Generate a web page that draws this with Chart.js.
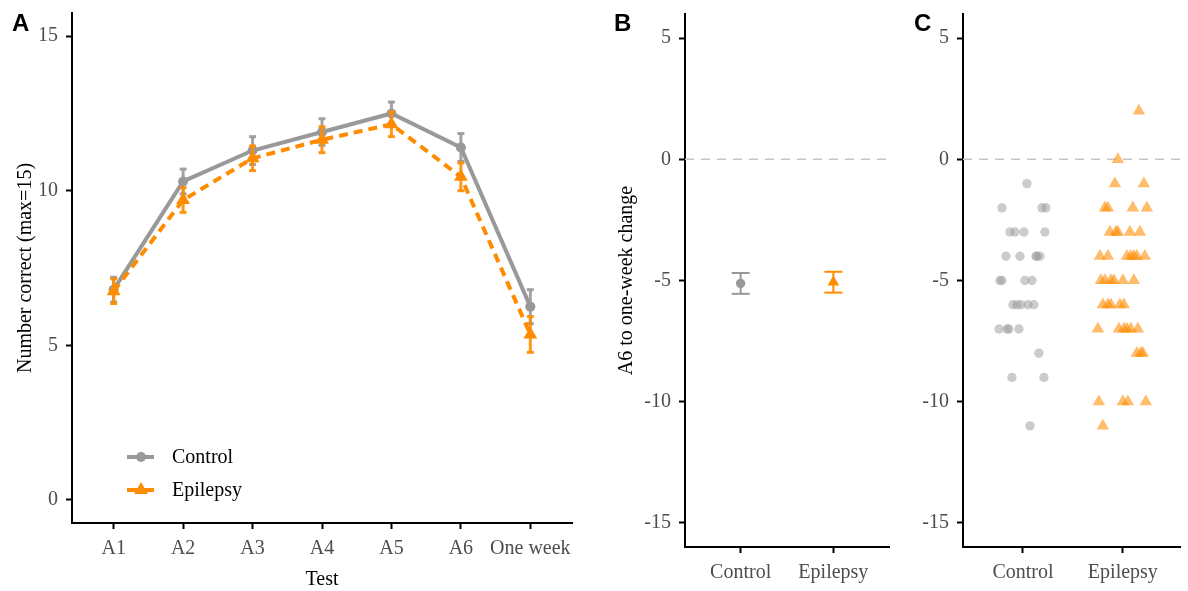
<!DOCTYPE html>
<html lang="en">
<head>
<meta charset="utf-8" />
<title>Recall by test: control vs epilepsy</title>
<script src="https://cdn.jsdelivr.net/npm/chart.js@4.4.1/dist/chart.umd.min.js"></script>
<style>
  html, body { margin: 0; padding: 0; background: #fff; }
  body { width: 1188px; height: 591px; position: relative; overflow: hidden; }
  canvas { position: absolute; top: 0; }
  .tag { position: absolute; top: 11px; font: bold 24px/24px "Liberation Sans", Arial, sans-serif; color: #000; }
</style>
</head>
<body>
<canvas id="cA" width="600" height="591" style="left:0"></canvas>
<canvas id="cB" width="300" height="591" style="left:600px"></canvas>
<canvas id="cC" width="288" height="591" style="left:900px"></canvas>
<div class="tag" style="left:12px">A</div>
<div class="tag" style="left:614px">B</div>
<div class="tag" style="left:914px">C</div>
<script>
// ---- panel A: learning trials ----
const tests = ['A1', 'A2', 'A3', 'A4', 'A5', 'A6', 'One week'];
const controlMean = [6.8, 10.3, 11.3, 11.9, 12.5, 11.4, 6.25];
const controlSE = [0.4, 0.4, 0.45, 0.43, 0.37, 0.45, 0.55];
const epilepsyMean = [6.75, 9.7, 11.05, 11.65, 12.15, 10.45, 5.35];
const epilepsySE = [0.4, 0.4, 0.4, 0.42, 0.4, 0.45, 0.58];
const yTicksA = [0, 5, 10, 15];

// ---- panel B: mean change A6 -> one week ----
const groups = ['Control', 'Epilepsy'];
const changeMean = [-5.12, -5.07];
const changeSE = [0.43, 0.43];
const yTicksChange = [-15, -10, -5, 0, 5];
const refLineY = 0;

// ---- panel C: individual changes (jitter in category units) ----
const controlChange = [-1, -2, -2, -2, -3, -3, -3, -3, -4, -4, -4, -4, -4, -5, -5, -5, -5,
  -6, -6, -6, -6, -6, -7, -7, -7, -7, -8, -9, -9, -11];
const controlJitter = [0.04, -0.21, 0.19, 0.23, -0.13, -0.08, 0.01, 0.22, -0.17, -0.03, 0.13, 0.14, 0.17,
  -0.23, -0.21, 0.02, 0.09, -0.10, -0.06, -0.02, 0.05, 0.11, -0.24, -0.16, -0.14, -0.04, 0.16, -0.11, 0.21, 0.07];
const epilepsyChange = [2, 0, -1, -1, -2, -2, -2, -2, -3, -3, -3, -3, -3,
  -4, -4, -4, -4, -4, -4, -4, -5, -5, -5, -5, -5, -5, -6, -6, -6, -6, -6,
  -7, -7, -7, -7, -7, -7, -8, -8, -8, -10, -10, -10, -10, -11];
const epilepsyJitter = [0.16, -0.05, -0.08, 0.21, -0.18, -0.15, 0.10, 0.24, -0.13, -0.07, -0.05, 0.07, 0.17,
  -0.23, -0.15, 0.04, 0.08, 0.11, 0.14, 0.22, -0.22, -0.18, -0.12, -0.09, 0.00, 0.11,
  -0.20, -0.15, -0.12, -0.03, 0.01, -0.25, -0.04, 0.01, 0.04, 0.08, 0.15,
  0.14, 0.18, 0.20, -0.24, 0.00, 0.05, 0.23, -0.20];

const SERIF = "'Liberation Serif', 'Times New Roman', serif";
const GREY = '#999999';
const ORANGE = '#ff8c00';
const TICK_TXT = '#4d4d4d';

// segments lo->hi for each point, separated by gaps
function errorBars(xs, means, ses) {
  const out = [];
  xs.forEach((x, i) => {
    out.push({ x, y: means[i] - ses[i] }, { x, y: means[i] + ses[i] }, { x, y: null });
  });
  return out;
}

function errDataset(data, color, capR, width, order) {
  return {
    data, showLine: true, spanGaps: false, order,
    borderColor: color, borderWidth: width,
    pointStyle: 'line', pointRadius: capR, pointBorderWidth: width,
    pointBorderColor: color, pointBackgroundColor: color,
  };
}

// fixed sizes so the plot boxes land where the original panels are
function yAxis(width, min, max, ticks, title, titlePad) {
  return {
    type: 'linear', min, max, bounds: 'data',
    afterFit: (s) => { s.width = width; s.paddingTop = 0; s.paddingBottom = 0; },
    afterBuildTicks: (s) => { s.ticks = ticks.map((v) => ({ value: v })); },
    border: { display: true, color: '#000', width: 2 },
    grid: { display: true, drawOnChartArea: false, drawTicks: true, tickLength: 6, tickWidth: 2, tickColor: '#000' },
    ticks: { color: TICK_TXT, font: { family: SERIF, size: 20 }, padding: 8 },
    title: title
      ? { display: true, text: title, color: '#000', font: { family: SERIF, size: 20 }, padding: { top: titlePad, bottom: 0 } }
      : { display: false },
  };
}

function xAxis(height, min, max, labels, title) {
  return {
    type: 'linear', min, max, bounds: 'data',
    afterFit: (s) => { s.height = height; s.paddingLeft = 0; s.paddingRight = 0; },
    afterBuildTicks: (s) => { s.ticks = labels.map((_, i) => ({ value: i + 1 })); },
    border: { display: true, color: '#000', width: 2 },
    grid: { display: true, drawOnChartArea: false, drawTicks: true, tickLength: 6, tickWidth: 2, tickColor: '#000' },
    ticks: {
      color: TICK_TXT, font: { family: SERIF, size: 20 }, padding: 8,
      autoSkip: false, maxRotation: 0, minRotation: 0,
      callback: (v) => labels[Math.round(v) - 1],
    },
    title: title
      ? { display: true, text: title, color: '#000', font: { family: SERIF, size: 20 }, padding: { top: 0, bottom: -1 } }
      : { display: false },
  };
}

const baseOptions = {
  responsive: false,
  animation: false,
  devicePixelRatio: 1,
  events: [],
  plugins: { legend: { display: false }, tooltip: { enabled: false } },
};

// legend drawn inside panel A, bottom-left
const legendItems = [
  { label: 'Control', color: GREY, shape: 'circle', r: 5 },
  { label: 'Epilepsy', color: ORANGE, shape: 'triangle', r: 8 },
];
const legendA = {
  id: 'legendA',
  afterDraw(chart) {
    const { ctx, chartArea } = chart;
    const x0 = chartArea.left + 55;
    legendItems.forEach((item, i) => {
      const y = chartArea.bottom - 66 + i * 33;
      ctx.save();
      ctx.strokeStyle = item.color;
      ctx.fillStyle = item.color;
      ctx.lineWidth = 4;
      ctx.beginPath();
      ctx.moveTo(x0, y);
      ctx.lineTo(x0 + 27, y);
      ctx.stroke();
      const cx = x0 + 14;
      ctx.beginPath();
      if (item.shape === 'circle') {
        ctx.arc(cx, y, item.r, 0, Math.PI * 2);
      } else {
        const r = item.r;
        ctx.moveTo(cx, y - r);
        ctx.lineTo(cx + r * 0.866, y + r / 2);
        ctx.lineTo(cx - r * 0.866, y + r / 2);
        ctx.closePath();
      }
      ctx.fill();
      ctx.fillStyle = '#000';
      ctx.font = '20px ' + SERIF;
      ctx.textBaseline = 'middle';
      ctx.fillText(item.label, x0 + 45, y + 1);
      ctx.restore();
    });
  },
};

const xsA = tests.map((_, i) => i + 1);

new Chart(document.getElementById('cA'), {
  type: 'scatter',
  data: {
    datasets: [
      errDataset(errorBars(xsA, controlMean, controlSE), 'rgba(153,153,153,0.9)', 3.5, 3, 4),
      {
        label: 'Control', order: 3, showLine: true,
        data: xsA.map((x, i) => ({ x, y: controlMean[i] })),
        borderColor: GREY, borderWidth: 4,
        pointStyle: 'circle', pointRadius: 5, pointBorderWidth: 0,
        pointBackgroundColor: GREY,
      },
      errDataset(errorBars(xsA, epilepsyMean, epilepsySE), 'rgba(255,140,0,0.9)', 3.5, 3, 2),
      {
        label: 'Epilepsy', order: 1, showLine: true,
        data: xsA.map((x, i) => ({ x, y: epilepsyMean[i] })),
        borderColor: ORANGE, borderWidth: 4, borderDash: [9, 6],
        pointStyle: 'triangle', pointRadius: 8, pointBorderWidth: 0,
        pointBackgroundColor: ORANGE,
      },
    ],
  },
  options: {
    ...baseOptions,
    layout: { padding: { left: 0, right: 28, top: 13, bottom: 0 } },
    scales: {
      x: xAxis(68, 0.4, 7.6, tests, 'Test'),
      y: yAxis(72, -0.75, 15.75, yTicksA, 'Number correct (max=15)', 14),
    },
  },
  plugins: [legendA],
});

new Chart(document.getElementById('cB'), {
  type: 'scatter',
  data: {
    datasets: [
      {
        data: [{ x: 0.4, y: refLineY }, { x: 2.6, y: refLineY }], order: 9, showLine: true,
        borderColor: '#c4c4c4', borderWidth: 1.5, borderDash: [9, 7], pointRadius: 0,
      },
      errDataset(errorBars([1], [changeMean[0]], [changeSE[0]]), GREY, 9, 2, 5),
      errDataset(errorBars([2], [changeMean[1]], [changeSE[1]]), ORANGE, 9, 2, 4),
      {
        label: groups[0], order: 2, data: [{ x: 1, y: changeMean[0] }],
        pointStyle: 'circle', pointRadius: 4.7, pointBorderWidth: 0, pointBackgroundColor: GREY,
      },
      {
        label: groups[1], order: 1, data: [{ x: 2, y: changeMean[1] }],
        pointStyle: 'triangle', pointRadius: 6.8, pointBorderWidth: 0, pointBackgroundColor: ORANGE,
      },
    ],
  },
  options: {
    ...baseOptions,
    layout: { padding: { left: 0, right: 10, top: 14, bottom: 0 } },
    scales: {
      x: xAxis(44, 0.4, 2.6, groups, null),
      y: yAxis(85, -16, 6, yTicksChange, 'A6 to one-week change', 15),
    },
  },
});

new Chart(document.getElementById('cC'), {
  type: 'scatter',
  data: {
    datasets: [
      {
        data: [{ x: 0.4, y: refLineY }, { x: 2.6, y: refLineY }], order: 9, showLine: true,
        borderColor: '#c4c4c4', borderWidth: 1.5, borderDash: [9, 7], pointRadius: 0,
      },
      {
        label: groups[0], order: 2,
        data: controlChange.map((v, i) => ({ x: 1 + controlJitter[i], y: v })),
        pointStyle: 'circle', pointRadius: 4.7, pointBorderWidth: 0,
        pointBackgroundColor: 'rgba(153,153,153,0.5)',
      },
      {
        label: groups[1], order: 1,
        data: epilepsyChange.map((v, i) => ({ x: 2 + epilepsyJitter[i], y: v })),
        pointStyle: 'triangle', pointRadius: 7.2, pointBorderWidth: 0,
        pointBackgroundColor: 'rgba(255,140,0,0.58)',
      },
    ],
  },
  options: {
    ...baseOptions,
    layout: { padding: { left: 0, right: 0, top: 14, bottom: 0 } },
    scales: {
      x: xAxis(44, 0.4, 2.58, groups, null),
      y: yAxis(63, -16, 6, yTicksChange, null, 0),
    },
  },
});
</script>
</body>
</html>
